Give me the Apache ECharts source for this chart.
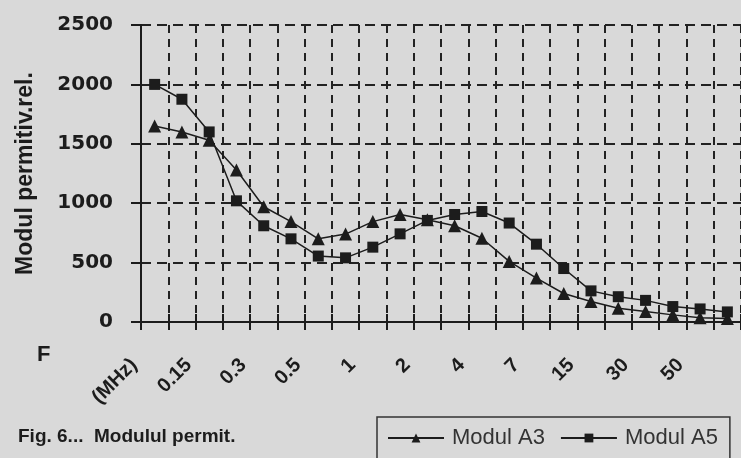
<!DOCTYPE html>
<html>
<head>
<meta charset="utf-8">
<script src="https://cdn.jsdelivr.net/npm/echarts@6/dist/echarts.min.js"></script>
<style>
  html, body { margin: 0; padding: 0; background: #d9d9d9; }
  #chart { width: 741px; height: 458px; }
</style>
</head>
<body>
<div id="chart"></div>
<script>
// tick labels shown under the axis (one per two measured points)
const freqLabels = ["(MHz)", "0.15", "0.3", "0.5", "1", "2", "4", "7", "15", "30", "50"];

// 22 points per curve
const modulA3 = [1650, 1600, 1530, 1280, 970, 845, 700, 740, 845, 905, 860, 810,
                 705, 510, 370, 240, 172, 115, 88, 60, 35, 30];
const modulA5 = [2000, 1875, 1600, 1020, 810, 700, 555, 540, 630, 742, 855, 905,
                 930, 833, 655, 450, 262, 213, 182, 130, 110, 85];

const yMin = 0, yMax = 2500, yStep = 500;

const points = modulA5.map((_, i) => String(i + 1));

const ink = "#1c1c1c";
const chart = echarts.init(document.getElementById("chart"));

chart.setOption({
  animation: false,
  backgroundColor: "#d9d9d9",
  title: [
    {
      text: "Fig. 6...  Modulul permit.",
      left: 18, top: 427, padding: 0,
      textStyle: { fontFamily: "Liberation Sans", fontWeight: "bold", fontSize: 19, color: ink }
    },
    {
      text: "F",
      left: 37, top: 344, padding: 0,
      textStyle: { fontFamily: "Liberation Sans", fontWeight: "bold", fontSize: 22, color: ink }
    }
  ],
  legend: {
    data: ["Modul A3", "Modul A5"],
    left: 377, top: 417,
    padding: [10, 12, 30, 10],
    itemWidth: 56, itemHeight: 11, itemGap: 15,
    borderColor: "#333", borderWidth: 1.5,
    textStyle: { fontFamily: "Liberation Sans", fontSize: 22, color: "#333", padding: [0, 0, 0, 3] }
  },
  grid: [
    { left: 141, top: 25, width: 601, height: 297 },
    { left: 134, top: 25, width: 601, height: 297 }
  ],
  xAxis: [
    {
      type: "category", gridIndex: 0, data: points, boundaryGap: true, position: "bottom",
      axisLine: { lineStyle: { color: ink, width: 2 } },
      axisTick: { show: true, interval: 0, length: 8, lineStyle: { color: ink, width: 2 } },
      axisLabel: { show: false },
      splitLine: { show: true, interval: 0, lineStyle: { color: "#222", width: 2, type: [8, 6] } }
    },
    {
      type: "category", gridIndex: 0, data: points, boundaryGap: true, position: "bottom",
      axisLine: { show: false },
      axisTick: { show: true, inside: true, interval: 0, length: 8, lineStyle: { color: ink, width: 2 } },
      axisLabel: { show: false },
      splitLine: { show: false }
    },
    {
      type: "value", gridIndex: 1, min: 0, max: 22, interval: 2,
      axisLine: { show: false }, axisTick: { show: false }, splitLine: { show: false },
      axisLabel: {
        rotate: 45, margin: 40,
        fontFamily: "Liberation Sans", fontWeight: "bold", fontSize: 20, color: ink,
        formatter: v => freqLabels[v / 2] ?? ""
      }
    }
  ],
  yAxis: [
    {
      type: "value", gridIndex: 0, min: yMin, max: yMax, interval: yStep,
      name: "Modul permitiv.rel.",
      nameLocation: "middle", nameGap: 104,
      nameTextStyle: { fontFamily: "Liberation Sans", fontWeight: "bold", fontSize: 23, color: ink },
      axisLine: { show: true, lineStyle: { color: ink, width: 2 } },
      axisTick: { show: true, length: 10, lineStyle: { color: ink, width: 2 } },
      axisLabel: {
        margin: 28, fontFamily: "DejaVu Sans", fontWeight: "bold", fontSize: 20, color: ink,
        formatter: v => String(v)
      },
      splitLine: { show: true, lineStyle: { color: "#222", width: 2, type: [10, 6] } }
    },
    { type: "value", gridIndex: 1, min: 0, max: 1, show: false }
  ],
  series: [
    {
      name: "Modul A3", type: "line", xAxisIndex: 0, yAxisIndex: 0,
      data: modulA3, symbol: "triangle", symbolSize: 13,
      itemStyle: { color: ink }, lineStyle: { color: ink, width: 1.5 }
    },
    {
      name: "Modul A5", type: "line", xAxisIndex: 0, yAxisIndex: 0,
      data: modulA5, symbol: "rect", symbolSize: 11,
      itemStyle: { color: ink }, lineStyle: { color: ink, width: 1.5 }
    },
    { type: "scatter", xAxisIndex: 2, yAxisIndex: 1, data: [] }
  ]
});
</script>
</body>
</html>
